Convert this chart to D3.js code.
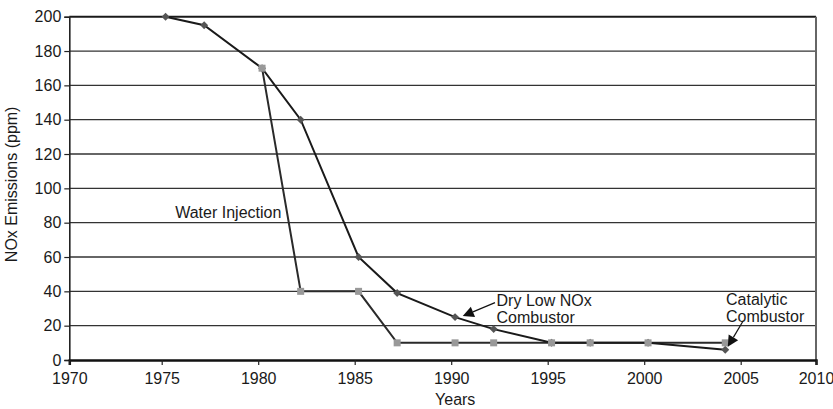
<!DOCTYPE html>
<html>
<head>
<meta charset="utf-8">
<script src="https://cdn.jsdelivr.net/npm/d3@7"></script>
<style>
  html, body { margin: 0; padding: 0; background: #fff; }
  svg { display: block; font-family: "Liberation Sans", Arial, sans-serif; }
</style>
</head>
<body>
<svg id="chart" width="833" height="409"></svg>
<script>
// ---- Data ----
const dlnYears   = [1975.2, 1977.2, 1980.2, 1982.2, 1985.2, 1987.2, 1990.2, 1992.2, 1995.2, 1997.2, 2000.2, 2004.2];
const dlnValues  = [200, 195, 170, 140, 60, 39, 25, 18, 10, 10, 10, 6];
const wiYears    = [1980.2, 1982.2, 1985.2, 1987.2, 1990.2, 1992.2, 1995.2, 1997.2, 2000.2, 2004.2];
const wiValues   = [170, 40, 40, 10, 10, 10, 10, 10, 10, 10];
const xTicks     = [1970, 1975, 1980, 1985, 1990, 1995, 2000, 2005, 2010];
const yTicks     = [0, 20, 40, 60, 80, 100, 120, 140, 160, 180, 200];
const xTitle     = "Years";
const yTitle     = "NOx Emissions (ppm)";
const notes = [
  { lines: ["Water Injection"], x: 1975.7, y: 82.7 },
  { lines: ["Dry Low NOx", "Combustor"], x: 1992.35, y: 31.5, from: [1992.27, 33.4], tip: [1990.6, 25.6] },
  { lines: ["Catalytic", "Combustor"], x: 2004.24, y: 32.0, from: [2005.13, 22.3], tip: [2004.33, 7.7] }
];

(function () {
// ---- Layout ----
const svg = d3.select("#chart");
const pLeft = 69.3, pRight = 816, pTop = 16.7, pBottom = 360;

const x = d3.scaleLinear()
  .domain([1970, 1975, 2005, 2010])
  .range([pLeft, 161.7, 740.7, pRight]);
const y = d3.scaleLinear().domain([0, 200]).range([pBottom, pTop]);

// grid lines
svg.append("g").selectAll("line")
  .data(yTicks.filter(v => v > 0 && v < 200))
  .join("line")
  .attr("x1", pLeft).attr("x2", pRight)
  .attr("y1", d => y(d)).attr("y2", d => y(d))
  .attr("stroke", "#333").attr("stroke-width", 1.3);

// top border
svg.append("line").attr("x1", pLeft).attr("x2", pRight)
  .attr("y1", y(200)).attr("y2", y(200))
  .attr("stroke", "#1a1a1a").attr("stroke-width", 2);
// right border
svg.append("line").attr("x1", pRight).attr("x2", pRight)
  .attr("y1", y(200)).attr("y2", y(0))
  .attr("stroke", "#666").attr("stroke-width", 2);

// Y axis
const yAxis = d3.axisLeft(y).tickValues(yTicks).tickSize(5).tickPadding(3).tickFormat(d3.format("d"));
const gy = svg.append("g").attr("transform", `translate(${pLeft},0)`).call(yAxis);
gy.select(".domain").attr("stroke", "#222").attr("stroke-width", 1.6);
gy.selectAll(".tick line").attr("stroke", "#222").attr("stroke-width", 1.2);
gy.selectAll(".tick text").attr("font-size", 16).attr("fill", "#1a1a1a")
  .attr("font-family", "Liberation Sans, Arial, sans-serif");

// X axis
const xAxis = d3.axisBottom(x).tickValues(xTicks).tickSize(5).tickPadding(8).tickFormat(d3.format("d"));
const gx = svg.append("g").attr("transform", `translate(0,${pBottom})`).call(xAxis);
gx.select(".domain").attr("stroke", "#111").attr("stroke-width", 2.5);
gx.selectAll(".tick line").attr("stroke", "#222").attr("stroke-width", 1.2);
gx.selectAll(".tick text").attr("font-size", 16).attr("fill", "#1a1a1a")
  .attr("font-family", "Liberation Sans, Arial, sans-serif");

// Axis titles
svg.append("text").attr("x", (x(1990) + 4)).attr("y", 405)
  .attr("text-anchor", "middle").attr("font-size", 16).attr("fill", "#1a1a1a").text(xTitle);
svg.append("text")
  .attr("transform", `translate(17,${(pTop + pBottom) / 2 - 4}) rotate(-90)`)
  .attr("text-anchor", "middle").attr("font-size", 16).attr("fill", "#1a1a1a").text(yTitle);

// Lines
const lineGen = d3.line().x(d => x(d[0])).y(d => y(d[1]));
const wiData = wiYears.map((yr, i) => [yr, wiValues[i]]);
const dlnData = dlnYears.map((yr, i) => [yr, dlnValues[i]]);

svg.append("path").datum(wiData).attr("d", lineGen)
  .attr("fill", "none").attr("stroke", "#2a2a2a").attr("stroke-width", 2);
svg.append("path").datum(dlnData).attr("d", lineGen)
  .attr("fill", "none").attr("stroke", "#1a1a1a").attr("stroke-width", 2);

// Markers
svg.append("g").selectAll("path").data(dlnData).join("path")
  .attr("d", d3.symbol().type(d3.symbolDiamond2 || d3.symbolDiamond).size(40))
  .attr("transform", d => `translate(${x(d[0])},${y(d[1])})`)
  .attr("fill", "#555");
svg.append("g").selectAll("rect").data(wiData).join("rect")
  .attr("x", d => x(d[0]) - 3.5).attr("y", d => y(d[1]) - 3.5)
  .attr("width", 7).attr("height", 7).attr("fill", "#999");

// Annotations
notes.forEach(n => {
  const t = svg.append("text").attr("font-size", 16).attr("fill", "#1a1a1a");
  n.lines.forEach((ln, i) => {
    t.append("tspan").attr("x", x(n.x)).attr("y", y(n.y) + i * 16.7).text(ln);
  });
  if (n.from) {
    const fx = x(n.from[0]), fy = y(n.from[1]);
    const tx = x(n.tip[0]), ty = y(n.tip[1]);
    const dx = fx - tx, dy = fy - ty, len = Math.hypot(dx, dy);
    const ux = dx / len, uy = dy / len;
    const hl = 11, hw = 5.5;
    const bx = tx + ux * hl, by = ty + uy * hl;
    svg.append("line").attr("x1", fx).attr("y1", fy).attr("x2", bx).attr("y2", by)
      .attr("stroke", "#111").attr("stroke-width", 1.2);
    svg.append("path")
      .attr("d", d3.line()([[tx, ty], [bx - uy * hw, by + ux * hw], [bx + uy * hw, by - ux * hw]]) + "Z")
      .attr("fill", "#111");
  }
});
})();
</script>
</body>
</html>
